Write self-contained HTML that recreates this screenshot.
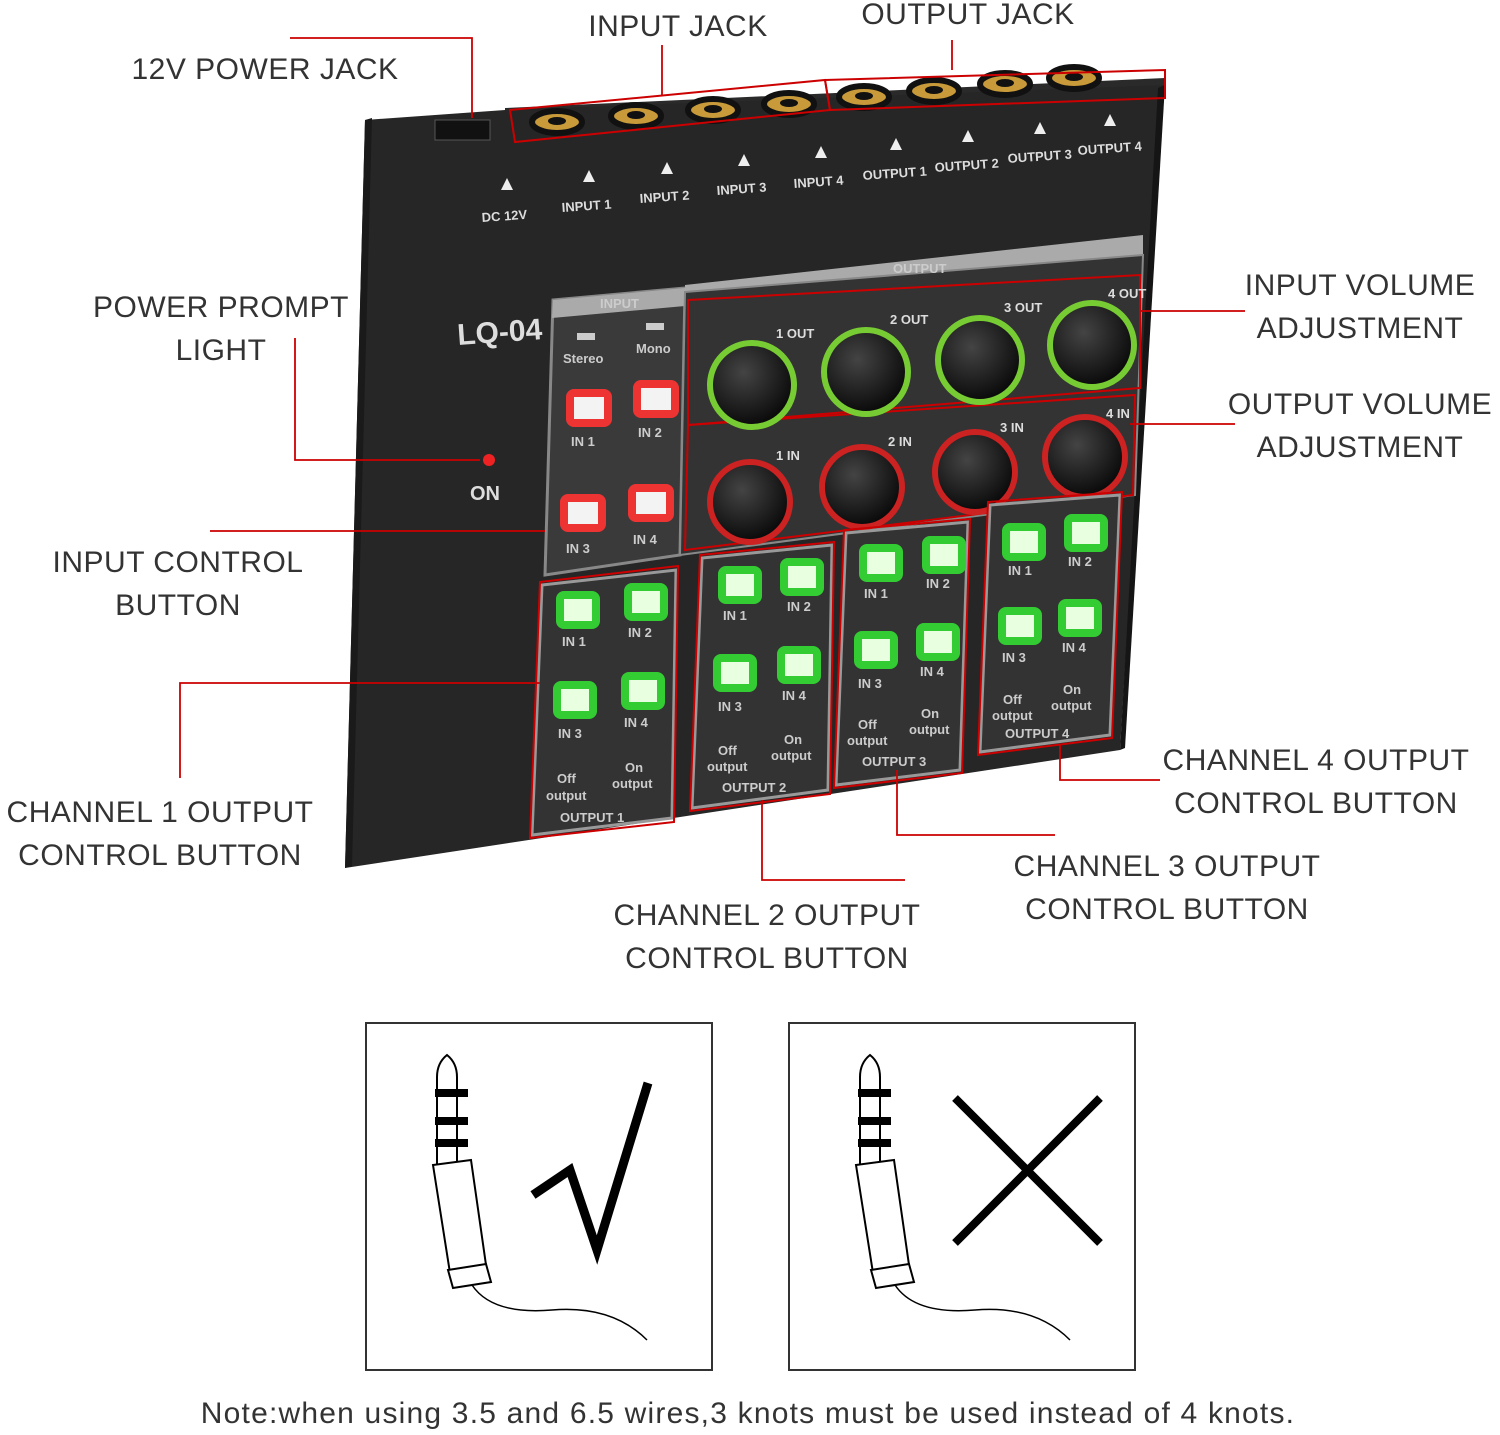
<!DOCTYPE html>
<html><head><meta charset="utf-8"><style>
html,body{margin:0;padding:0;background:#fff;}
body{width:1500px;height:1434px;overflow:hidden;position:relative;font-family:"Liberation Sans",sans-serif;}
.l{position:absolute;color:#333;font-size:30px;text-align:center;white-space:nowrap;line-height:43px;transform:translateX(-50%);letter-spacing:0.5px;}
</style></head><body>
<svg width="1500" height="1434" style="position:absolute;left:0;top:0" xmlns="http://www.w3.org/2000/svg">
<defs>
<radialGradient id="kn" cx="0.4" cy="0.35" r="0.7"><stop offset="0" stop-color="#444"/><stop offset="1" stop-color="#050505"/></radialGradient>
</defs>
<polygon points="505,108 1165,78 1165,92 505,125" fill="#2a2a2a"/>
<polygon points="365,120 505,110 1165,85 1160,90 1120,750 345,868" fill="#262626"/>
<polygon points="365,120 372,118 352,866 345,868" fill="#1a1a1a"/>
<polygon points="1158,88 1165,85 1125,748 1120,750" fill="#151515"/>
<rect x="435" y="120" width="55" height="20" fill="#111" stroke="#555"/>
<g fill="#c89a3a" stroke="#111" stroke-width="6">
<ellipse cx="557" cy="122" rx="25" ry="11"/><ellipse cx="636" cy="116" rx="25" ry="11"/>
<ellipse cx="713" cy="110" rx="25" ry="11"/><ellipse cx="789" cy="104" rx="25" ry="11"/>
<ellipse cx="864" cy="97" rx="25" ry="11"/><ellipse cx="934" cy="91" rx="25" ry="11"/>
<ellipse cx="1005" cy="84" rx="25" ry="11"/><ellipse cx="1074" cy="78" rx="25" ry="11"/>
</g>
<g fill="#111"><ellipse cx="557" cy="121" rx="9" ry="4"/><ellipse cx="636" cy="115" rx="9" ry="4"/><ellipse cx="713" cy="109" rx="9" ry="4"/><ellipse cx="789" cy="103" rx="9" ry="4"/><ellipse cx="864" cy="96" rx="9" ry="4"/><ellipse cx="934" cy="90" rx="9" ry="4"/><ellipse cx="1005" cy="83" rx="9" ry="4"/><ellipse cx="1074" cy="77" rx="9" ry="4"/></g>
<polygon points="510,110 825,80 830,110 515,142" fill="none" stroke="#c00" stroke-width="2"/>
<polygon points="825,80 1165,70 1165,98 830,110" fill="none" stroke="#c00" stroke-width="2"/>
<g fill="#ddd" font-size="13" font-family="Liberation Sans" font-weight="bold">
<text x="482" y="222" transform="rotate(-4 482 222)">DC 12V</text>
<text x="562" y="212" transform="rotate(-4 562 212)">INPUT 1</text>
<text x="640" y="203" transform="rotate(-4 640 203)">INPUT 2</text>
<text x="717" y="195" transform="rotate(-4 717 195)">INPUT 3</text>
<text x="794" y="188" transform="rotate(-4 794 188)">INPUT 4</text>
<text x="863" y="180" transform="rotate(-4 863 180)">OUTPUT 1</text>
<text x="935" y="172" transform="rotate(-4 935 172)">OUTPUT 2</text>
<text x="1008" y="163" transform="rotate(-4 1008 163)">OUTPUT 3</text>
<text x="1078" y="155" transform="rotate(-4 1078 155)">OUTPUT 4</text>
<text x="458" y="345" font-size="30" transform="rotate(-4 458 345)">LQ-04</text>
<text x="470" y="500" font-size="20">ON</text>
</g>
<g fill="#eee"><polygon points="507,178 513,190 501,190"/><polygon points="589,170 595,182 583,182"/><polygon points="667,162 673,174 661,174"/><polygon points="744,154 750,166 738,166"/><polygon points="821,146 827,158 815,158"/><polygon points="896,138 902,150 890,150"/><polygon points="968,130 974,142 962,142"/><polygon points="1040,122 1046,134 1034,134"/><polygon points="1110,114 1116,126 1104,126"/></g>
<circle cx="489" cy="460" r="6" fill="#e22"/>
<polygon points="553,300 685,288 680,555 545,575" fill="#3a3a3a" stroke="#888" stroke-width="3"/>
<polygon points="553,300 685,288 685,306 552,318" fill="#aaa"/>
<polygon points="685,285 1143,235 1143,255 685,292" fill="#aaa"/>
<polygon points="685,292 1143,255 1135,495 680,555" fill="#333" stroke="#888" stroke-width="2"/>
<polygon points="688,300 1140,275 1140,388 688,425" fill="none" stroke="#c00" stroke-width="2"/>
<polygon points="688,425 1135,395 1133,495 685,550" fill="none" stroke="#c00" stroke-width="2"/>
<g>
<circle cx="752" cy="385" r="42" fill="url(#kn)" stroke="#7c3" stroke-width="6"/>
<circle cx="866" cy="372" r="42" fill="url(#kn)" stroke="#7c3" stroke-width="6"/>
<circle cx="980" cy="360" r="42" fill="url(#kn)" stroke="#7c3" stroke-width="6"/>
<circle cx="1092" cy="345" r="42" fill="url(#kn)" stroke="#7c3" stroke-width="6"/>
<circle cx="750" cy="502" r="40" fill="url(#kn)" stroke="#c22" stroke-width="6"/>
<circle cx="862" cy="487" r="40" fill="url(#kn)" stroke="#c22" stroke-width="6"/>
<circle cx="975" cy="472" r="40" fill="url(#kn)" stroke="#c22" stroke-width="6"/>
<circle cx="1085" cy="457" r="40" fill="url(#kn)" stroke="#c22" stroke-width="6"/>
</g>
<g fill="#ddd" font-size="13" font-family="Liberation Sans" font-weight="bold">
<text x="776" y="338">1 OUT</text><text x="890" y="324">2 OUT</text><text x="1004" y="312">3 OUT</text><text x="1108" y="298">4 OUT</text>
<text x="776" y="460">1 IN</text><text x="888" y="446">2 IN</text><text x="1000" y="432">3 IN</text><text x="1106" y="418">4 IN</text>
</g>
<g fill="#f3f3f3" stroke="#e33" stroke-width="8">
<rect x="570" y="393" width="38" height="30" rx="4"/><rect x="637" y="384" width="38" height="30" rx="4"/>
<rect x="564" y="498" width="38" height="30" rx="4"/><rect x="632" y="488" width="38" height="30" rx="4"/>
</g>
<g fill="#333" stroke="#999" stroke-width="3">
<polygon points="542,585 676,570 672,818 532,835"/>
<polygon points="702,558 832,545 828,790 692,808"/>
<polygon points="846,533 968,522 960,770 836,785"/>
<polygon points="990,505 1120,495 1110,735 980,752"/>
</g>
<g fill="none" stroke="#c00" stroke-width="2">
<polygon points="540,582 678,566 674,822 530,838"/>
<polygon points="700,555 834,542 830,794 690,811"/>
<polygon points="844,530 970,519 962,773 834,788"/>
<polygon points="988,502 1122,492 1112,738 978,755"/>
</g>
<g fill="#e8ffe0" stroke="#3c3" stroke-width="8">
<rect x="560" y="595" width="36" height="30" rx="4"/><rect x="628" y="587" width="36" height="30" rx="4"/>
<rect x="557" y="685" width="36" height="30" rx="4"/><rect x="625" y="676" width="36" height="30" rx="4"/>
<rect x="722" y="570" width="36" height="30" rx="4"/><rect x="784" y="562" width="36" height="30" rx="4"/>
<rect x="717" y="658" width="36" height="30" rx="4"/><rect x="781" y="650" width="36" height="30" rx="4"/>
<rect x="863" y="548" width="36" height="30" rx="4"/><rect x="926" y="540" width="36" height="30" rx="4"/>
<rect x="858" y="635" width="36" height="30" rx="4"/><rect x="920" y="627" width="36" height="30" rx="4"/>
<rect x="1006" y="527" width="36" height="30" rx="4"/><rect x="1068" y="518" width="36" height="30" rx="4"/>
<rect x="1002" y="611" width="36" height="30" rx="4"/><rect x="1062" y="603" width="36" height="30" rx="4"/>
</g>
<g fill="#ccc" font-size="13" font-family="Liberation Sans" font-weight="bold">
<text x="600" y="308">INPUT</text><text x="893" y="273">OUTPUT</text>
<text x="563" y="363">Stereo</text><text x="636" y="353">Mono</text>
<text x="571" y="446">IN 1</text><text x="638" y="437">IN 2</text><text x="566" y="553">IN 3</text><text x="633" y="544">IN 4</text>
<text x="562" y="646">IN 1</text><text x="628" y="637">IN 2</text><text x="558" y="738">IN 3</text><text x="624" y="727">IN 4</text>
<text x="723" y="620">IN 1</text><text x="787" y="611">IN 2</text><text x="718" y="711">IN 3</text><text x="782" y="700">IN 4</text>
<text x="864" y="598">IN 1</text><text x="926" y="588">IN 2</text><text x="858" y="688">IN 3</text><text x="920" y="676">IN 4</text>
<text x="1008" y="575">IN 1</text><text x="1068" y="566">IN 2</text><text x="1002" y="662">IN 3</text><text x="1062" y="652">IN 4</text>
<text x="557" y="783">Off</text><text x="546" y="800">output</text><text x="625" y="772">On</text><text x="612" y="788">output</text>
<text x="718" y="755">Off</text><text x="707" y="771">output</text><text x="784" y="744">On</text><text x="771" y="760">output</text>
<text x="858" y="729">Off</text><text x="847" y="745">output</text><text x="921" y="718">On</text><text x="909" y="734">output</text>
<text x="1003" y="704">Off</text><text x="992" y="720">output</text><text x="1063" y="694">On</text><text x="1051" y="710">output</text>
<text x="560" y="822">OUTPUT 1</text><text x="722" y="792">OUTPUT 2</text><text x="862" y="766">OUTPUT 3</text><text x="1005" y="738">OUTPUT 4</text>
</g>
<g fill="#ccc"><rect x="577" y="333" width="18" height="7"/><rect x="646" y="323" width="18" height="7"/></g>
<g fill="none" stroke="#c00" stroke-width="1.8">
<polyline points="290,38 472,38 472,118"/>
<line x1="662" y1="45" x2="662" y2="95"/>
<line x1="952" y1="40" x2="952" y2="70"/>
<polyline points="295,338 295,460 480,460"/>
<line x1="210" y1="531" x2="545" y2="531"/>
<polyline points="180,778 180,683 540,683"/>
<polyline points="762,800 762,880 905,880"/>
<polyline points="897,770 897,835 1055,835"/>
<polyline points="1060,745 1060,780 1160,780"/>
<line x1="1140" y1="311" x2="1245" y2="311"/>
<line x1="1130" y1="424" x2="1235" y2="424"/>
</g>
<rect x="366" y="1023" width="346" height="347" fill="none" stroke="#333" stroke-width="2"/>
<rect x="789" y="1023" width="346" height="347" fill="none" stroke="#333" stroke-width="2"/>
<polyline points="533,1195 570,1170 597,1250 648,1083" fill="none" stroke="#000" stroke-width="9"/>
<line x1="955" y1="1098" x2="1100" y2="1243" stroke="#000" stroke-width="8"/>
<line x1="1100" y1="1098" x2="955" y2="1243" stroke="#000" stroke-width="8"/>
<g id="plug" fill="#fff" stroke="#000" stroke-width="2">
<path d="M447,1055 q-10,8 -10,22 l0,88 l20,0 l0,-88 q0,-14 -10,-22z"/>
<rect x="436" y="1090" width="31" height="6" fill="#000"/>
<rect x="436" y="1118" width="31" height="6" fill="#000"/>
<rect x="436" y="1140" width="31" height="6" fill="#000"/>
<path d="M433,1165 l38,-5 l15,105 l-36,8z"/>
<path d="M448,1270 l38,-6 l5,18 l-38,6z"/>
<path d="M472,1285 q20,30 80,25 q60,-5 95,30" fill="none" stroke-width="1.5"/>
</g>
<use href="#plug" x="423" y="0"/>
</svg>
<div class="l" style="left:265px;top:48px">12V POWER JACK</div>
<div class="l" style="left:678px;top:5px">INPUT JACK</div>
<div class="l" style="left:968px;top:-7px">OUTPUT JACK</div>
<div class="l" style="left:221px;top:286px">POWER PROMPT<br>LIGHT</div>
<div class="l" style="left:178px;top:541px">INPUT CONTROL<br>BUTTON</div>
<div class="l" style="left:160px;top:791px">CHANNEL 1 OUTPUT<br>CONTROL BUTTON</div>
<div class="l" style="left:767px;top:894px">CHANNEL 2 OUTPUT<br>CONTROL BUTTON</div>
<div class="l" style="left:1167px;top:845px">CHANNEL 3 OUTPUT<br>CONTROL BUTTON</div>
<div class="l" style="left:1316px;top:739px">CHANNEL 4 OUTPUT<br>CONTROL BUTTON</div>
<div class="l" style="left:1360px;top:264px">INPUT VOLUME<br>ADJUSTMENT</div>
<div class="l" style="left:1360px;top:383px">OUTPUT VOLUME<br>ADJUSTMENT</div>
<div class="l" style="left:748px;top:1392px;letter-spacing:1.2px;">Note:when using 3.5 and 6.5 wires,3 knots must be used instead of 4 knots.</div>
</body></html>
